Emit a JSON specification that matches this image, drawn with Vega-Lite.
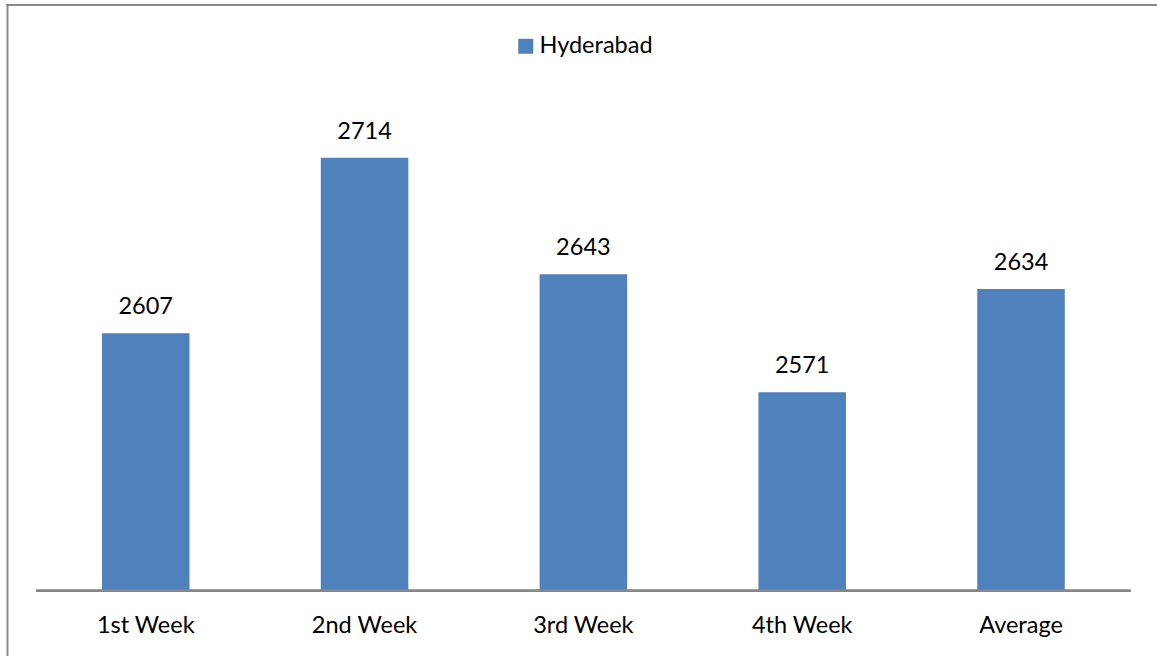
{
  "$schema": "https://vega.github.io/schema/vega-lite/v6.json",
  "width": 1151,
  "height": 651,
  "autosize": {"type": "none"},
  "padding": {"left": 6, "top": 5, "right": 0, "bottom": 0},
  "background": "white",
  "config": {"view": {"stroke": null}, "font": "Lato"},
  "data": {
    "values": [
      {"week": "1st Week", "city": "Hyderabad", "value": 2607},
      {"week": "2nd Week", "city": "Hyderabad", "value": 2714},
      {"week": "3rd Week", "city": "Hyderabad", "value": 2643},
      {"week": "4th Week", "city": "Hyderabad", "value": 2571},
      {"week": "Average", "city": "Hyderabad", "value": 2634}
    ]
  },
  "layer": [
    {
      "mark": {"type": "bar", "color": "#4F81BD"},
      "encoding": {
        "x": {
          "field": "week",
          "type": "nominal",
          "sort": null,
          "scale": {"paddingInner": 0.6, "paddingOuter": 0.43, "align": 0.51},
          "axis": {
            "title": null,
            "domain": false,
            "ticks": false,
            "tickSize": 0,
            "offset": -65.3,
            "labelAngle": 0,
            "labelFont": "Lato",
            "labelFontSize": 23.5,
            "labelColor": "#000000",
            "labelBaseline": "alphabetic",
            "labelPadding": 42
          }
        },
        "y": {
          "field": "value",
          "type": "quantitative",
          "scale": {"domain": [2410.2, 2807.1], "nice": false, "zero": false},
          "axis": {
            "title": null,
            "labels": false,
            "ticks": false,
            "grid": false,
            "domain": true,
            "domainColor": "#898989",
            "domainWidth": 2,
            "offset": -1
          }
        },
        "y2": {"datum": 2450},
        "color": {
          "field": "city",
          "type": "nominal",
          "scale": {"range": ["#4F81BD"]},
          "legend": {
            "title": null,
            "orient": "none",
            "legendX": 508,
            "legendY": 29.5,
            "padding": 0,
            "symbolType": "square",
            "symbolSize": 225,
            "symbolStrokeWidth": 0,
            "labelFont": "Lato",
            "labelFontSize": 23.5,
            "labelColor": "#000000",
            "labelOffset": 2
          }
        }
      }
    },
    {
      "mark": {"type": "text", "dy": -19, "baseline": "alphabetic", "fontSize": 23.5, "font": "Lato", "color": "#000000"},
      "encoding": {
        "x": {"field": "week", "type": "nominal", "sort": null},
        "y": {"field": "value", "type": "quantitative"},
        "text": {"field": "value", "type": "quantitative", "format": "d"}
      }
    },
    {
      "mark": {"type": "rule", "color": "#868686", "strokeWidth": 2},
      "encoding": {
        "x": {"datum": "1st Week", "bandPosition": -0.75},
        "x2": {"datum": "Average", "bandPosition": 1.75},
        "y": {"datum": 2450}
      }
    },
    {
      "data": {"values": [{}]},
      "mark": {"type": "rule", "color": "#898989", "strokeWidth": 2},
      "encoding": {
        "y": {"datum": 2807.1}
      }
    }
  ]
}
